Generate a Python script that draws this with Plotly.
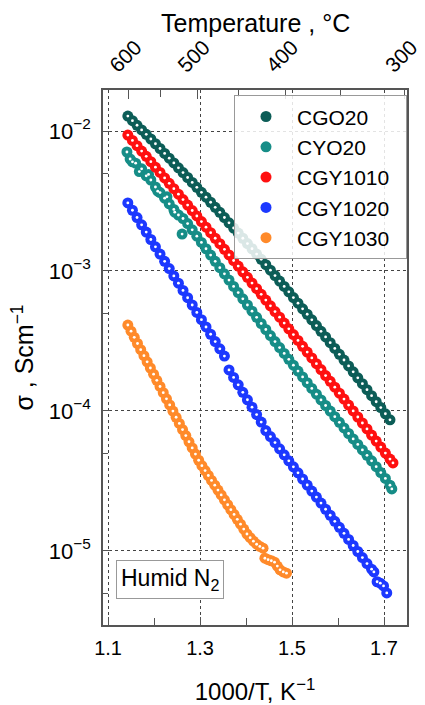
import plotly.graph_objects as go

# ---------------- data ----------------
inv_T_grid = [1.143, 1.153, 1.163, 1.173, 1.183, 1.193, 1.203, 1.213, 1.223, 1.233,
              1.243, 1.253, 1.263, 1.273, 1.283, 1.293, 1.303, 1.313, 1.323, 1.333,
              1.343, 1.353, 1.363, 1.373, 1.383, 1.393, 1.403, 1.413, 1.423, 1.433,
              1.443, 1.453, 1.463, 1.473, 1.483, 1.493, 1.503, 1.513, 1.523, 1.533,
              1.543, 1.553, 1.563, 1.573, 1.583, 1.593, 1.603, 1.613, 1.623, 1.633,
              1.643, 1.653, 1.663, 1.673, 1.683, 1.693, 1.703, 1.713]

# log10(sigma / S cm^-1)
log_cgo20 = [-1.893, -1.926, -1.959, -1.992, -2.024, -2.057, -2.091, -2.125, -2.160, -2.194,
             -2.228, -2.263, -2.297, -2.332, -2.367, -2.402, -2.438, -2.473, -2.509, -2.545,
             -2.581, -2.618, -2.656, -2.693, -2.729, -2.766, -2.804, -2.841, -2.879, -2.917,
             -2.955, -2.994, -3.033, -3.072, -3.110, -3.149, -3.190, -3.230, -3.270, -3.309,
             -3.349, -3.390, -3.431, -3.471, -3.512, -3.553, -3.595, -3.636, -3.678, -3.720,
             -3.763, -3.805, -3.848, -3.891, -3.934, -3.976, -4.020, -4.063]

log_cgy1010 = [-2.029, -2.067, -2.105, -2.143, -2.181, -2.219, -2.258, -2.296, -2.335, -2.374,
               -2.412, -2.451, -2.490, -2.529, -2.568, -2.607, -2.647, -2.687, -2.726, -2.766,
               -2.805, -2.845, -2.885, -2.925, -2.965, -3.006, -3.045, -3.086, -3.126, -3.167,
               -3.208, -3.249, -3.290, -3.330, -3.372, -3.413, -3.454, -3.496, -3.538, -3.579,
               -3.621, -3.662, -3.704, -3.747, -3.788, -3.830, -3.873, -3.915, -3.958, -4.000,
               -4.043, -4.086, -4.128, -4.172, -4.215, -4.258, -4.301, -4.344, -4.371]
inv_T_cgy1010 = inv_T_grid + [1.7195]

inv_T_cyo20 = [1.141, 1.148, 1.153, 1.160, 1.168, 1.173, 1.183, 1.188, 1.193, 1.203,
               1.208, 1.213, 1.223, 1.228, 1.233, 1.243, 1.245, 1.253, 1.261, 1.263,
               1.273, 1.283, 1.293, 1.303, 1.313, 1.323, 1.333, 1.343, 1.353, 1.363,
               1.373, 1.383, 1.393, 1.403, 1.413, 1.423, 1.433, 1.443, 1.453, 1.463,
               1.473, 1.483, 1.493, 1.503, 1.513, 1.523, 1.533, 1.543, 1.553, 1.563,
               1.573, 1.583, 1.593, 1.603, 1.613, 1.623, 1.633, 1.643, 1.653, 1.663,
               1.673, 1.683, 1.693, 1.703, 1.713, 1.717]
log_cyo20 = [-2.150, -2.200, -2.220, -2.230, -2.290, -2.270, -2.320, -2.310, -2.350, -2.400,
             -2.430, -2.440, -2.480, -2.470, -2.520, -2.560, -2.580, -2.600, -2.736, -2.625,
             -2.661, -2.706, -2.751, -2.796, -2.841, -2.886, -2.931, -2.976, -3.020, -3.065,
             -3.110, -3.154, -3.199, -3.243, -3.287, -3.331, -3.375, -3.418, -3.461, -3.504,
             -3.547, -3.589, -3.631, -3.673, -3.715, -3.757, -3.798, -3.839, -3.880, -3.921,
             -3.961, -4.001, -4.041, -4.081, -4.121, -4.161, -4.200, -4.239, -4.278, -4.317,
             -4.356, -4.398, -4.440, -4.482, -4.530, -4.557]

inv_T_cgy1020 = inv_T_grid[:54] + [1.678, 1.685, 1.692, 1.699, 1.706]
log_cgy1020 = [-2.514, -2.566, -2.618, -2.670, -2.722, -2.775, -2.827, -2.879, -2.931, -2.983,
               -3.035, -3.087, -3.139, -3.191, -3.243, -3.296, -3.348, -3.400, -3.452, -3.504,
               -3.556, -3.608, -3.707, -3.760, -3.813, -3.867, -3.920, -3.973, -4.026, -4.079,
               -4.140, -4.183, -4.226, -4.270, -4.313, -4.356, -4.399, -4.442, -4.486, -4.529,
               -4.572, -4.615, -4.658, -4.702, -4.745, -4.788, -4.831, -4.874, -4.918, -4.961,
               -5.004, -5.047, -5.090, -5.130, -5.150, -5.220, -5.230, -5.250, -5.300]

inv_T_cgy1030 = [1.143, 1.150, 1.157, 1.164, 1.171, 1.178, 1.185, 1.192, 1.199, 1.206,
                 1.213, 1.220, 1.227, 1.234, 1.241, 1.248, 1.255, 1.262, 1.269, 1.276,
                 1.283, 1.290, 1.297, 1.304, 1.311, 1.318, 1.325, 1.332, 1.339, 1.346,
                 1.353, 1.360, 1.367, 1.374, 1.381, 1.388, 1.395, 1.402, 1.409, 1.416,
                 1.423, 1.430, 1.437, 1.441, 1.448, 1.455, 1.462, 1.468, 1.474, 1.481, 1.488]
log_cgy1030 = [-3.386, -3.430, -3.474, -3.518, -3.562, -3.605, -3.649, -3.693, -3.737, -3.781,
               -3.825, -3.869, -3.913, -3.957, -4.001, -4.045, -4.089, -4.133, -4.176, -4.220,
               -4.264, -4.308, -4.352, -4.391, -4.426, -4.461, -4.496, -4.530, -4.565, -4.600,
               -4.635, -4.670, -4.705, -4.739, -4.774, -4.809, -4.844, -4.879, -4.905, -4.930,
               -4.952, -4.968, -4.980, -5.052, -5.062, -5.070, -5.080, -5.108, -5.135, -5.150, -5.159]

series_names = ["CGO20", "CYO20", "CGY1010", "CGY1020", "CGY1030"]
series_x = [inv_T_grid, inv_T_cyo20, inv_T_cgy1010, inv_T_cgy1020, inv_T_cgy1030]
series_log = [log_cgo20, log_cyo20, log_cgy1010, log_cgy1020, log_cgy1030]
series_colors = ["#0c5d57", "#168d87", "#ff1010", "#1c38ff", "#ff8a2a"]

x_ticks = [1.1, 1.3, 1.5, 1.7]
x_minor = [1.2, 1.4, 1.6]
y_ticks = [1e-2, 1e-3, 1e-4, 1e-5]
y_ticktext = ["10<sup>\u22122</sup>", "10<sup>\u22123</sup>", "10<sup>\u22124</sup>", "10<sup>\u22125</sup>"]
y_minor = [5e-3, 5e-4, 5e-5, 5e-6]
temp_ticks_C = [600, 500, 400, 300]
temp_minor_C = [550, 450, 350]

# ---------------- figure ----------------
FONT = "Arial, Liberation Sans, sans-serif"
AX = "#555555"
GRID = "#444444"
XR = [1.089, 1.75]
PAD = "\u00a0\u00a0"  # right padding inside the legend box

fig = go.Figure()
for name, xs, ls, col in zip(series_names, series_x, series_log, series_colors):
    ys = [10 ** v for v in ls]
    fig.add_trace(go.Scatter(x=xs, y=ys, mode="markers", name=name + PAD,
                             marker=dict(color=col, size=11, line=dict(width=0))))
    fig.add_trace(go.Scatter(x=xs, y=ys, mode="markers", showlegend=False, hoverinfo="skip",
                             marker=dict(color="white", size=2.8, line=dict(width=0))))

top_vals = [1000.0 / (t + 273.15) for t in temp_ticks_C]
top_minor = [1000.0 / (t + 273.15) for t in temp_minor_C]
fig.add_trace(go.Scatter(x=top_vals, y=[1e-3] * len(top_vals), xaxis="x2", mode="markers",
                         marker=dict(opacity=0), showlegend=False, hoverinfo="skip"))

fig.update_layout(
    width=425, height=705,
    margin=dict(l=103, r=18, t=90, b=80, autoexpand=False),
    paper_bgcolor="white", plot_bgcolor="white",
    font=dict(family=FONT, size=20, color="black"),
    showlegend=True,
    legend=dict(x=1.0, xanchor="right", y=0.99, yanchor="top",
                bgcolor="rgba(255,255,255,0.85)", bordercolor="#999999", borderwidth=1,
                font=dict(size=21, family=FONT), itemwidth=52, tracegroupgap=0),
    xaxis=dict(range=XR, tickmode="array", tickvals=x_ticks, ticktext=[str(v) for v in x_ticks],
               ticks="inside", ticklen=8, tickcolor=AX, tickwidth=1.2,
               showgrid=True, gridcolor=GRID, griddash="dot", gridwidth=1, zeroline=False,
               showline=True, linecolor=AX, linewidth=1.5, mirror=False,
               minor=dict(tickmode="array", tickvals=x_minor, ticks="inside", ticklen=7,
                          tickcolor=AX, showgrid=False),
               tickfont=dict(size=20), automargin=False, ticklabelstandoff=4,
               title=dict(text="1000/T, K<sup>\u22121</sup>", font=dict(size=24), standoff=35)),
    xaxis2=dict(overlaying="x", side="top", range=XR, tickmode="array", tickvals=top_vals,
                ticktext=[str(t) for t in temp_ticks_C], tickangle=-45,
                ticks="inside", ticklen=9, tickcolor=AX, tickwidth=1.2,
                showgrid=False, zeroline=False, showline=True, linecolor=AX, linewidth=1.5,
                minor=dict(tickmode="array", tickvals=top_minor, ticks="inside", ticklen=7,
                           tickcolor=AX, showgrid=False),
                tickfont=dict(size=21), automargin=False,
                ticklabelstandoff=3, ticklabelshift=-18, ticklabeloverflow="allow"),
    yaxis=dict(type="log", range=[-5.529, -1.707], tickmode="array", tickvals=y_ticks,
               ticktext=y_ticktext, ticks="inside", ticklen=7, tickcolor=AX, tickwidth=1.2,
               showgrid=True, gridcolor=GRID, griddash="dot", gridwidth=1, zeroline=False,
               showline=True, linecolor=AX, linewidth=1.5, mirror=True,
               minor=dict(tickmode="array", tickvals=y_minor, ticks="inside", ticklen=5,
                          tickcolor=AX, showgrid=False),
               tickfont=dict(size=22), automargin=False, ticklabelstandoff=6,
               title=dict(text="\u03c3 , Scm<sup>\u22121</sup>", font=dict(size=25), standoff=8)),
    annotations=[
        dict(text="Temperature , \u00b0C", xref="paper", yref="paper", x=0.5, y=1.125,
             xanchor="center", yanchor="middle", showarrow=False,
             font=dict(size=25, family=FONT, color="black")),
        dict(text="Humid N<sub>2</sub>", xref="paper", yref="paper", x=0.043, y=0.049,
             xanchor="left", yanchor="bottom", showarrow=False,
             font=dict(size=23, family=FONT, color="black"),
             bordercolor="#999999", borderwidth=1, borderpad=4, bgcolor="white"),
    ],
)

fig.write_html("out.html")
